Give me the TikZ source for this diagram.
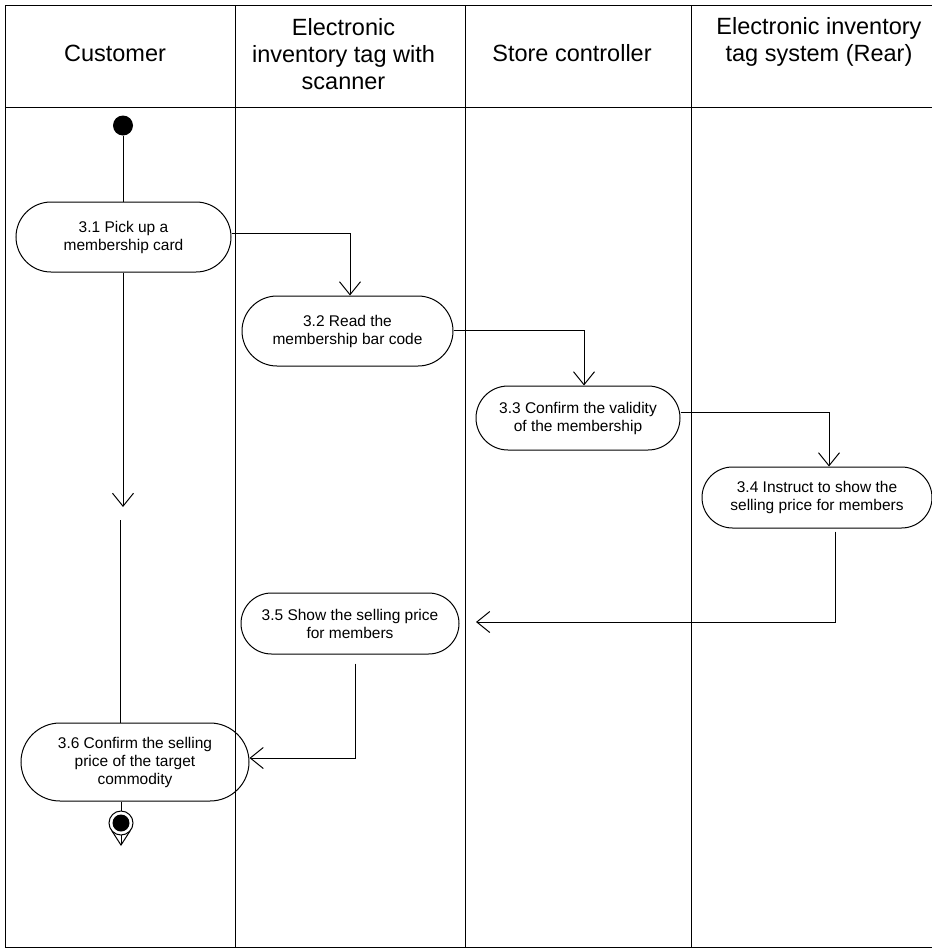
\documentclass[tikz,border=0pt]{standalone}
\usepackage{fontspec}
\setmainfont{Liberation Sans}
\usetikzlibrary{arrows.meta}
\begin{document}
\begin{tikzpicture}[x=1pt,y=-1pt,
  lane/.style={line width=1pt,draw=black},
  hdr/.style={align=center,inner sep=0pt,font=\fontsize{23.5}{27}\selectfont},
  act/.style={draw,line width=1pt,rounded corners=#1,align=center,inner sep=0pt,font=\fontsize{15.5}{18}\selectfont},
  arr/.style={line width=1pt,-{Straight Barb[length=13pt,width=21pt]}},
  conn/.style={line width=1pt}]
\useasboundingbox (0,0) rectangle (932,951);
% swimlane frame
\draw[lane] (5,947) -- (5,5) -- (932,5);
\draw[lane] (5,107) -- (932,107);
\draw[lane] (5,947) -- (932,947);
\draw[lane] (235,5) -- (235,947);
\draw[lane] (465,5) -- (465,947);
\draw[lane] (691,5) -- (691,947);
% headers
\node[hdr] (h1) at (115,53) {Customer};
\node[hdr] (h2) at (343.5,54) {Electronic\\inventory tag with\\scanner};
\node[hdr] (h3) at (572,53) {Store controller};
\node[hdr] (h4) at (819,42) {Electronic inventory\\tag system (Rear)};
% initial node
\node[circle,fill=black,minimum size=20pt,inner sep=0pt] (init) at (123,125.5) {};
% activities
\node[act=35pt,minimum width=215pt,minimum height=70pt] (n31) at (123.5,237) {3.1 Pick up a\\membership card};
\node[act=35pt,minimum width=211pt,minimum height=70pt] (n32) at (347.5,331) {3.2 Read the\\membership bar code};
\node[act=32pt,minimum width=204pt,minimum height=64pt] (n33) at (578,418) {3.3 Confirm the validity\\of the membership};
\node[act=30.5pt,minimum width=230pt,minimum height=61pt] (n34) at (817,497.5) {3.4 Instruct to show the\\selling price for members};
\node[act=30.5pt,minimum width=218pt,minimum height=61pt] (n35) at (350,623.5) {3.5 Show the selling price\\for members};
\node[act=39pt,minimum width=228pt,minimum height=78pt] (n36) at (135,762) {3.6 Confirm the selling\\price of the target\\commodity};
% helper coordinates
\coordinate (m1) at (123,507);
\coordinate (m2) at (120,520);
\coordinate (a35) at (476,622);
\coordinate (tip) at (121,846);
% connectors
\draw[conn] (init) -- (n31.north -| init);
\draw[arr] ([yshift=4pt]n31.east) -| ([xshift=2.5pt]n32.north);
\draw[arr] ([yshift=1pt]n32.east) -| ([xshift=6pt]n33.north);
\draw[arr] ([yshift=6pt]n33.east) -| ([xshift=12pt]n34.north);
\draw[arr] ([xshift=18pt,yshift=-3pt]n34.south) |- (a35);
\draw[arr] ([xshift=5pt,yshift=-9pt]n35.south) |- ([yshift=4pt]n36.east);
\draw[arr] (n31.south -| m1) -- (m1);
\draw[conn] (m2) -- (n36.north -| m2);
% final node
\draw[line width=1pt,-{Straight Barb[length=14pt,width=18pt]}] (n36.south -| tip) -- (tip);
\node[circle,draw,line width=1pt,fill=white,minimum size=24pt,inner sep=0pt] (fin) at (121,823) {};
\node[circle,fill=black,minimum size=17pt,inner sep=0pt] (finc) at (fin) {};
\end{tikzpicture}
\end{document}
